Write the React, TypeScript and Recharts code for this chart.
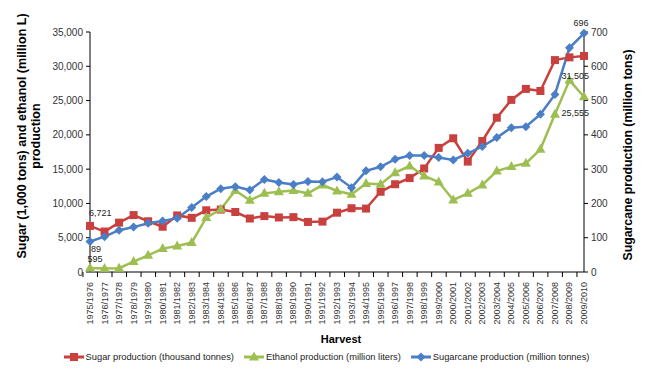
import { LineChart, Line, XAxis, YAxis, Legend } from 'recharts';

const harvests = [
  '1975/1976', '1976/1977', '1977/1978', '1978/1979', '1979/1980', '1980/1981', '1981/1982',
  '1982/1983', '1983/1984', '1984/1985', '1985/1986', '1986/1987', '1987/1988', '1988/1989',
  '1989/1990', '1990/1991', '1991/1992', '1992/1993', '1993/1994', '1994/1995', '1995/1996',
  '1996/1997', '1997/1998', '1998/1999', '1999/2000', '2000/2001', '2001/2002', '2002/2003',
  '2003/2004', '2004/2005', '2005/2006', '2006/2007', '2007/2008', '2008/2009', '2009/2010',
];

// thousand tonnes
const sugar = [
  6721, 5900, 7200, 8300, 7400, 6600, 8250, 7900, 9000, 9100, 8750, 7800, 8150, 7950, 8000,
  7300, 7350, 8650, 9300, 9250, 11700, 12800, 13700, 15100, 18100, 19500, 16100, 19100, 22500,
  25100, 26700, 26400, 30900, 31300, 31505,
];

// million liters
const ethanol = [
  595, 500, 550, 1520, 2430, 3410, 3790, 4290, 7930, 9140, 11900, 10450, 11470, 11720, 11900,
  11470, 12690, 11810, 11330, 12890, 12790, 14490, 15460, 14000, 13120, 10500, 11470, 12690,
  14730, 15370, 15850, 17890, 22990, 27950, 25555,
];

// million tonnes
const sugarcane = [
  89, 103, 122, 131, 142, 149, 157, 188, 220, 243, 249, 239, 270, 261, 255, 264, 263, 277, 246,
  295, 307, 329, 340, 340, 334, 327, 346, 366, 392, 421, 424, 460, 518, 654, 696,
];

const leftTicks = [0, 5000, 10000, 15000, 20000, 25000, 30000, 35000];
const rightTicks = [0, 100, 200, 300, 400, 500, 600, 700];

const rows = harvests.map((harvest, i) => ({
  harvest,
  sugar: sugar[i],
  ethanol: ethanol[i],
  sugarcane: sugarcane[i],
}));

const RED = '#C8413F';
const GREEN = '#9DBF52';
const BLUE = '#4A7EC6';
const FONT = '"Liberation Sans", Arial, sans-serif';
const last = harvests.length - 1;
const seriesOrder = ['sugar', 'ethanol', 'sugarcane'];

const fmt = (v: number) => v.toLocaleString('en-US');

function Square({ cx, cy, color }: any) {
  return <rect x={cx - 4} y={cy - 4} width={8} height={8} fill={color} />;
}
function Triangle({ cx, cy, color }: any) {
  return <polygon points={`${cx},${cy - 5.5} ${cx - 5},${cy + 3.5} ${cx + 5},${cy + 3.5}`} fill={color} />;
}
function Diamond({ cx, cy, color }: any) {
  return <polygon points={`${cx},${cy - 4.5} ${cx + 4.5},${cy} ${cx},${cy + 4.5} ${cx - 4.5},${cy}`} fill={color} />;
}

const markers: Record<string, any> = { sugar: Square, ethanol: Triangle, sugarcane: Diamond };

function makeDot(key: string, color: string) {
  const Shape = markers[key];
  return (p: any) => <Shape key={`${key}-${p.index}`} cx={p.cx} cy={p.cy} color={color} />;
}

// which points get a value label, and where it sits relative to the point
const labelSpots: Record<string, Record<number, { dx: number; dy: number; anchor: string }>> = {
  sugar: { 0: { dx: -1, dy: -13, anchor: 'start' }, [last]: { dx: 5, dy: 20, anchor: 'end' } },
  ethanol: { 0: { dx: 5, dy: -9, anchor: 'middle' }, [last]: { dx: 5, dy: 16, anchor: 'end' } },
  sugarcane: { 0: { dx: 6, dy: 8, anchor: 'middle' }, [last]: { dx: -3, dy: -10, anchor: 'middle' } },
};

function makeLabel(key: string) {
  return (p: any) => {
    const spot = labelSpots[key][p.index];
    if (!spot) return <g key={`${key}-l-${p.index}`} />;
    return (
      <text
        key={`${key}-l-${p.index}`}
        x={p.x + spot.dx}
        y={p.y + spot.dy}
        textAnchor={spot.anchor}
        dominantBaseline="central"
        fontSize={9}
        fontFamily={FONT}
        fill="#222"
      >
        {fmt(p.value)}
      </text>
    );
  };
}

function HarvestTick(props: any) {
  const { x, y, payload, width, visibleTicksCount } = props;
  const half = width && visibleTicksCount ? width / visibleTicksCount / 2 : 7;
  return (
    <g>
      <line x1={x - half} x2={x - half} y1={y - 7} y2={y - 2} stroke="#000" />
      <text
        transform={`translate(${x},${y + 3}) rotate(-90)`}
        textAnchor="end"
        dominantBaseline="central"
        fontSize={9}
        fontFamily={FONT}
        fill="#333"
      >
        {payload.value}
      </text>
    </g>
  );
}

function LeftTitle({ viewBox }: any) {
  const cy = viewBox.y + viewBox.height / 2 - 16;
  return (
    <text
      transform={`translate(${viewBox.x + 2},${cy}) rotate(-90)`}
      textAnchor="middle"
      fontSize={12.5}
      fontWeight="bold"
      fontFamily={FONT}
      fill="#000"
    >
      <tspan x={0} dy={4}>Sugar (1,000 tons) and ethanol (million L)</tspan>
      <tspan x={0} dy={14.3}>production</tspan>
    </text>
  );
}

function RightTitle({ viewBox }: any) {
  const cy = viewBox.y + viewBox.height / 2 + 3;
  return (
    <text
      transform={`translate(${viewBox.x + 44},${cy}) rotate(-90)`}
      textAnchor="middle"
      dominantBaseline="central"
      fontSize={12.3}
      fontWeight="bold"
      fontFamily={FONT}
      fill="#000"
    >
      Sugarcane production (million tons)
    </text>
  );
}

function HarvestTitle({ viewBox }: any) {
  return (
    <text
      x={viewBox.x + viewBox.width / 2 + 4}
      y={viewBox.y + 67}
      textAnchor="middle"
      dominantBaseline="central"
      fontSize={11}
      fontWeight="bold"
      fontFamily={FONT}
      fill="#000"
    >
      Harvest
    </text>
  );
}

function LegendContent({ payload }: any) {
  const items = [...(payload || [])].sort(
    (a: any, b: any) => seriesOrder.indexOf(a.dataKey) - seriesOrder.indexOf(b.dataKey),
  );
  return (
    <div
      style={{
        display: 'flex',
        justifyContent: 'center',
        gap: 10,
        height: 18,
        lineHeight: '18px',
        fontSize: 9.3,
        fontFamily: FONT,
        color: '#222',
        paddingLeft: 8,
      }}
    >
      {items.map((item: any) => {
        const Shape = markers[item.dataKey];
        return (
          <span key={item.dataKey} style={{ display: 'flex', alignItems: 'center', gap: 2 }}>
            <svg width={20} height={10}>
              <line x1={0} x2={20} y1={5} y2={5} stroke={item.color} strokeWidth={3} />
              <Shape cx={10} cy={5} color={item.color} />
            </svg>
            {item.value}
          </span>
        );
      })}
    </div>
  );
}

export default function App() {
  return (
    <div style={{ position: 'absolute', left: 0, top: 0, background: '#fff' }}>
      <LineChart width={645} height={370} data={rows} margin={{ top: 32, right: 20, bottom: 4, left: 20 }}>
        <XAxis
          dataKey="harvest"
          interval={0}
          height={76}
          tickSize={5}
          tickMargin={2}
          tickLine={false}
          axisLine={{ stroke: '#000' }}
          tick={<HarvestTick />}
          label={{ content: <HarvestTitle /> }}
        />
        <YAxis
          yAxisId="left"
          domain={[0, 35000]}
          ticks={leftTicks}
          width={70}
          tickSize={4}
          tickMargin={3}
          axisLine={{ stroke: '#000' }}
          tickLine={{ stroke: '#000' }}
          tick={{ fontSize: 10, fill: '#333', fontFamily: FONT }}
          tickFormatter={fmt}
          label={{ content: <LeftTitle /> }}
        />
        <YAxis
          yAxisId="right"
          orientation="right"
          domain={[0, 700]}
          ticks={rightTicks}
          width={41}
          tickSize={4}
          tickMargin={3}
          axisLine={{ stroke: '#000' }}
          tickLine={{ stroke: '#000' }}
          tick={{ fontSize: 10, fill: '#333', fontFamily: FONT }}
          label={{ content: <RightTitle /> }}
        />
        <Legend verticalAlign="bottom" content={<LegendContent />} />
        <Line
          yAxisId="left"
          dataKey="sugar"
          name="Sugar production (thousand tonnes)"
          stroke={RED}
          strokeWidth={2.5}
          dot={makeDot('sugar', RED)}
          label={makeLabel('sugar')}
          isAnimationActive={false}
        />
        <Line
          yAxisId="left"
          dataKey="ethanol"
          name="Ethanol production (million liters)"
          stroke={GREEN}
          strokeWidth={2.5}
          dot={makeDot('ethanol', GREEN)}
          label={makeLabel('ethanol')}
          isAnimationActive={false}
        />
        <Line
          yAxisId="right"
          dataKey="sugarcane"
          name="Sugarcane production (million tonnes)"
          stroke={BLUE}
          strokeWidth={2.5}
          dot={makeDot('sugarcane', BLUE)}
          label={makeLabel('sugarcane')}
          isAnimationActive={false}
        />
      </LineChart>
    </div>
  );
}
